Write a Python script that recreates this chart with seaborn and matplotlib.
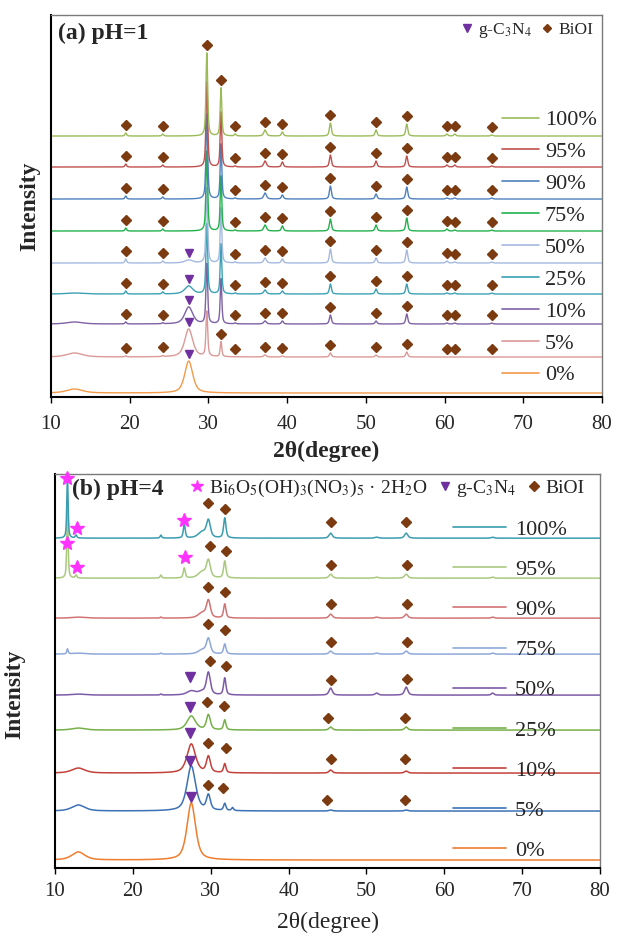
import numpy as np
import pandas as pd
import matplotlib
matplotlib.use("Agg")
import matplotlib.pyplot as plt
from matplotlib.lines import Line2D
import seaborn as sns

# ---------------------------------------------------------------------------
# Samples (g-C3N4 / BiOI composites, BiOI content)
SAMPLES = ["0%", "5%", "10%", "25%", "50%", "75%", "90%", "95%", "100%"]

# ---------------------------- panel (a): pH = 1 ----------------------------
A_OFFSETS = [4, 40, 73, 103, 134, 166, 198, 230, 261]
A_COLORS = ["#F29A4A", "#DB9A98", "#7E62A4", "#3BA1B4", "#A5B9E0",
            "#23B14D", "#4F81BD", "#C0504D", "#9BBB59"]
# reflection centres (2theta, deg) and half widths
A_PEAK_POS = [13.0, 19.5, 24.2, 27.5, 29.8, 31.6, 33.4, 37.2, 39.4,
              45.5, 51.3, 55.2, 60.3, 61.3, 66.0]
A_PEAK_HWHM = [1.2, 0.12, 0.12, 0.6, 0.13, 0.12, 0.12, 0.2, 0.15,
               0.15, 0.15, 0.15, 0.15, 0.15, 0.15]
# peak heights for each sample, same order as A_PEAK_POS
A_H_0 = [4, 0, 0, 32, 0, 0, 0, 0, 0, 0, 0, 0, 0, 0, 0]
A_H_5 = [4, 1, 1, 28, 45, 15, 0, 2, 1, 4, 2, 5, 0, 0, 0]
A_H_10 = [2, 2, 1, 17, 60, 45, 1, 3, 3, 9, 3, 10, 1, 1, 1]
A_H_25 = [1, 3, 2, 8, 70, 50, 1, 4, 3, 10, 5, 10, 1, 1, 1]
A_H_50 = [0, 4, 2, 3, 75, 55, 1, 5, 4, 14, 5, 13, 2, 1, 1]
A_H_75 = [0, 3, 2, 0, 80, 55, 1, 6, 5, 12, 6, 13, 2, 1, 1]
A_H_90 = [0, 3, 2, 0, 85, 55, 1, 6, 4, 13, 5, 12, 1, 1, 1]
A_H_95 = [0, 3, 2, 0, 85, 55, 1, 6, 5, 12, 6, 11, 2, 2, 1]
A_H_100 = [0, 3, 2, 0, 83, 48, 2, 6, 4, 13, 6, 12, 2, 2, 1]
A_HEIGHTS = [A_H_0, A_H_5, A_H_10, A_H_25, A_H_50, A_H_75, A_H_90, A_H_95, A_H_100]
# indexed reflections
A_BIOI_MARKS = [19.5, 24.2, 33.4, 37.2, 39.4, 45.5, 51.3, 55.2, 60.3, 61.3, 66.0]
A_BIOI_MAIN = {"5%": [31.6], "100%": [29.8, 31.6]}
A_GCN_SAMPLES = ["0%", "5%", "10%", "25%", "50%"]
A_GCN_POS = 27.5

# ---------------------------- panel (b): pH = 4 ----------------------------
B_OFFSETS = [8, 57, 95, 138, 173, 214, 250, 290, 330]
B_COLORS = ["#EE7D2F", "#3C72B5", "#C3413A", "#77B04A", "#7D5BA6",
            "#8FA8DA", "#D27474", "#A9C97F", "#3A9DB0"]
B_PEAK_POS = [11.6, 12.7, 13.0, 23.6, 26.6, 27.5, 28.9, 29.7, 31.8,
              32.8, 45.4, 51.3, 55.1, 66.2]
B_PEAK_HWHM = [0.1, 0.12, 1.0, 0.12, 0.15, 0.65, 0.6, 0.3, 0.18,
               0.15, 0.25, 0.25, 0.25, 0.2]
B_H_0 = [0, 0, 8, 0, 0, 57, 0, 0, 0, 0, 0, 0, 0, 0]
B_H_5 = [0, 0, 6, 0, 0, 45, 0, 15, 7, 3, 1, 0, 1, 0]
B_H_10 = [0, 0, 5, 0, 0, 29, 0, 16, 9, 0, 3, 0, 2, 0]
B_H_25 = [0, 0, 2, 0, 0, 14, 0, 15, 10, 0, 3, 0, 3, 0]
B_H_50 = [0, 0, 1, 1, 0, 4, 3, 22, 17, 0, 7, 2, 8, 2]
B_H_75 = [5, 0, 1, 1, 0, 0, 4, 15, 10, 0, 3, 1, 3, 1]
B_H_90 = [0, 0, 1, 1, 0, 0, 5, 17, 14, 0, 4, 1, 4, 1]
B_H_95 = [70, 3, 0, 3, 10, 0, 6, 17, 17, 0, 4, 1, 4, 1]
B_H_100 = [62, 3, 0, 3, 13, 0, 6, 17, 20, 0, 5, 1, 5, 1]
B_HEIGHTS = [B_H_0, B_H_5, B_H_10, B_H_25, B_H_50, B_H_75, B_H_90, B_H_95, B_H_100]
# phase marks: (sample, 2theta, height above the sample baseline)
B_STAR_MARKS = [("100%", 11.6, 60), ("100%", 12.8, 10), ("100%", 26.6, 18),
                ("95%", 11.6, 35), ("95%", 12.8, 11), ("95%", 26.7, 21)]
B_GCN_MARKS = [("0%", 27.5, 63), ("5%", 27.3, 50), ("10%", 27.4, 40),
               ("25%", 27.4, 23), ("50%", 27.4, 18)]
B_BIOI_MARKS = [
    ("100%", 29.7, 35), ("100%", 31.8, 29), ("100%", 45.5, 16), ("100%", 55.1, 16),
    ("95%", 29.9, 32), ("95%", 32.0, 27), ("95%", 45.5, 13), ("95%", 55.2, 13),
    ("90%", 29.6, 31), ("90%", 31.8, 26), ("90%", 45.4, 14), ("90%", 55.2, 14),
    ("75%", 29.6, 30), ("75%", 31.8, 24), ("75%", 45.5, 12), ("75%", 55.2, 12),
    ("50%", 29.9, 34), ("50%", 32.0, 29), ("50%", 45.4, 15), ("50%", 55.2, 16),
    ("25%", 29.5, 28), ("25%", 31.7, 24), ("25%", 45.0, 12), ("25%", 55.0, 12),
    ("10%", 29.7, 30), ("10%", 31.9, 25), ("10%", 45.4, 14), ("10%", 55.0, 14),
    ("5%", 29.6, 26), ("5%", 31.6, 23), ("5%", 44.9, 11), ("5%", 55.0, 11),
]

X_TICKS = [10, 20, 30, 40, 50, 60, 70, 80]

DIAMOND_C = "#7B3A10"
GCN_C = "#7030A0"
STAR_C = "#FF33FF"


def pattern(x, pos, hwhm, heights, eta=0.6):
    """Pseudo-Voigt sum for one diffraction pattern."""
    y = np.zeros_like(x)
    for p, w, h in zip(pos, hwhm, heights):
        if h == 0:
            continue
        d = (x - p) / w
        y += h * (eta / (1 + d ** 2) + (1 - eta) * np.exp(-np.log(2) * d ** 2))
    return y


def build_frame(offsets, pos, hwhm, heights):
    x = np.arange(10, 80.001, 0.02)
    rows = []
    for name, off, h in zip(SAMPLES, offsets, heights):
        rows.append(pd.DataFrame({"two_theta": x,
                                  "intensity": off + pattern(x, pos, hwhm, h),
                                  "sample": name}))
    return pd.concat(rows, ignore_index=True)


sns.set_theme(style="ticks")
plt.rcParams["font.family"] = ["Liberation Serif", "DejaVu Serif"]
plt.rcParams["mathtext.fontset"] = "stix"

fig = plt.figure(figsize=(6.18, 9.39), dpi=100)
ax_a = fig.add_axes([0.0825, 0.5772, 0.8915, 0.4068])
ax_b = fig.add_axes([0.089, 0.0756, 0.882, 0.4194])


def style_axes(ax, ylim, xlabel_weight, xlabel_size, xlabel_pad, tick_pad):
    ax.set_xlim(10, 80)
    ax.set_ylim(0, ylim)
    ax.set_xticks(X_TICKS)
    ax.set_xticklabels([str(t) for t in X_TICKS])
    ax.set_yticks([])
    ax.tick_params(axis="x", direction="out", length=4, width=1, color="black",
                   labelsize=15, pad=tick_pad)
    for side in ("left", "bottom"):
        ax.spines[side].set_color("black")
        ax.spines[side].set_linewidth(1.5)
    for side in ("top", "right"):
        ax.spines[side].set_visible(True)
        ax.spines[side].set_color("#7a7a7a")
        ax.spines[side].set_linewidth(1.0)
    ax.set_xlabel("2θ(degree)", fontsize=xlabel_size, fontweight=xlabel_weight,
                  labelpad=xlabel_pad)
    ax.set_ylabel("Intensity", fontsize=17, fontweight="bold", labelpad=8)


def series_legend(ax, colors, anchor, handlelength, handletextpad, labelspacing):
    handles = [Line2D([], [], color=c, lw=1.2) for c in colors][::-1]
    leg = ax.legend(handles, SAMPLES[::-1], loc="upper left", bbox_to_anchor=anchor,
                    frameon=False, fontsize=16, handlelength=handlelength,
                    handletextpad=handletextpad, labelspacing=labelspacing,
                    borderpad=0, borderaxespad=0)
    ax.add_artist(leg)


# ------------------------------- panel (a) ---------------------------------
df_a = build_frame(A_OFFSETS, A_PEAK_POS, A_PEAK_HWHM, A_HEIGHTS)
pal_a = dict(zip(SAMPLES, A_COLORS))
sns.lineplot(data=df_a, x="two_theta", y="intensity", hue="sample",
             hue_order=SAMPLES, palette=pal_a, estimator=None, sort=False,
             linewidth=1.0, legend=False, ax=ax_a)

off_a = dict(zip(SAMPLES, A_OFFSETS))
h_a = dict(zip(SAMPLES, A_HEIGHTS))
dx, dy = [], []
for name in SAMPLES[1:]:
    xs = list(A_BIOI_MARKS) + A_BIOI_MAIN.get(name, [])
    for xm in xs:
        dx.append(xm)
        dy.append(off_a[name] + pattern(np.array([xm]), A_PEAK_POS, A_PEAK_HWHM,
                                         h_a[name])[0] + 8)
ax_a.plot(dx, dy, ls="none", marker="D", ms=5, color=DIAMOND_C, zorder=5,
          clip_on=False)
tx, ty = [], []
for name in A_GCN_SAMPLES:
    tx.append(A_GCN_POS)
    ty.append(off_a[name] + pattern(np.array([A_GCN_POS]), A_PEAK_POS, A_PEAK_HWHM,
                                    h_a[name])[0] + 7)
ax_a.plot(tx, ty, ls="none", marker="v", ms=6, color=GCN_C, zorder=5)

style_axes(ax_a, 382, "bold", 17, 5, 9)
ax_a.text(0.012, 0.953, "(a) pH=1", transform=ax_a.transAxes, fontsize=17,
          fontweight="bold", ha="left", va="center")
series_legend(ax_a, A_COLORS, (0.818, 0.752), 1.7, 0.25, 0.51)
key_a = [Line2D([], [], ls="none", marker="v", ms=6, color=GCN_C),
         Line2D([], [], ls="none", marker="D", ms=4.5, color=DIAMOND_C)]
ax_a.legend(key_a, ["g-C$_3$N$_4$", "BiOI"], loc="upper right",
            bbox_to_anchor=(0.985, 0.985), ncol=2, frameon=False, fontsize=12.5,
            handlelength=0.6, handletextpad=0.35, columnspacing=0.6,
            borderpad=0, borderaxespad=0)

# ------------------------------- panel (b) ---------------------------------
df_b = build_frame(B_OFFSETS, B_PEAK_POS, B_PEAK_HWHM, B_HEIGHTS)
pal_b = dict(zip(SAMPLES, B_COLORS))
sns.lineplot(data=df_b, x="two_theta", y="intensity", hue="sample",
             hue_order=SAMPLES, palette=pal_b, estimator=None, sort=False,
             linewidth=1.1, legend=False, ax=ax_b)

off_b = dict(zip(SAMPLES, B_OFFSETS))
ax_b.plot([m[1] for m in B_BIOI_MARKS], [off_b[m[0]] + m[2] for m in B_BIOI_MARKS],
          ls="none", marker="D", ms=5.5, color=DIAMOND_C, zorder=5)
ax_b.plot([m[1] for m in B_GCN_MARKS], [off_b[m[0]] + m[2] for m in B_GCN_MARKS],
          ls="none", marker="v", ms=6.5, color=GCN_C, zorder=5)
ax_b.plot([m[1] for m in B_STAR_MARKS], [off_b[m[0]] + m[2] for m in B_STAR_MARKS],
          ls="none", marker="*", ms=10, color=STAR_C, zorder=6, clip_on=False)

style_axes(ax_b, 394, "normal", 17, 8, 6)
ax_b.yaxis.set_label_coords(-0.055, 0.44)
ax_b.text(0.031, 0.962, "(b) pH=4", transform=ax_b.transAxes, fontsize=17,
          fontweight="bold", ha="left", va="center")
series_legend(ax_b, B_COLORS, (0.730, 0.885), 2.4, 0.4, 0.88)
key_b = [Line2D([], [], ls="none", marker="*", ms=9, color=STAR_C),
         Line2D([], [], ls="none", marker="v", ms=6, color=GCN_C),
         Line2D([], [], ls="none", marker="D", ms=5, color=DIAMOND_C)]
ax_b.legend(key_b, ["Bi$_6$O$_5$(OH)$_3$(NO$_3$)$_5$ · 2H$_2$O", "g-C$_3$N$_4$", "BiOI"],
            loc="upper right", bbox_to_anchor=(0.972, 0.99), ncol=3, frameon=False,
            fontsize=14, handlelength=0.6, handletextpad=0.3, columnspacing=0.6,
            borderpad=0, borderaxespad=0)

fig.savefig("out.png", dpi=100)
